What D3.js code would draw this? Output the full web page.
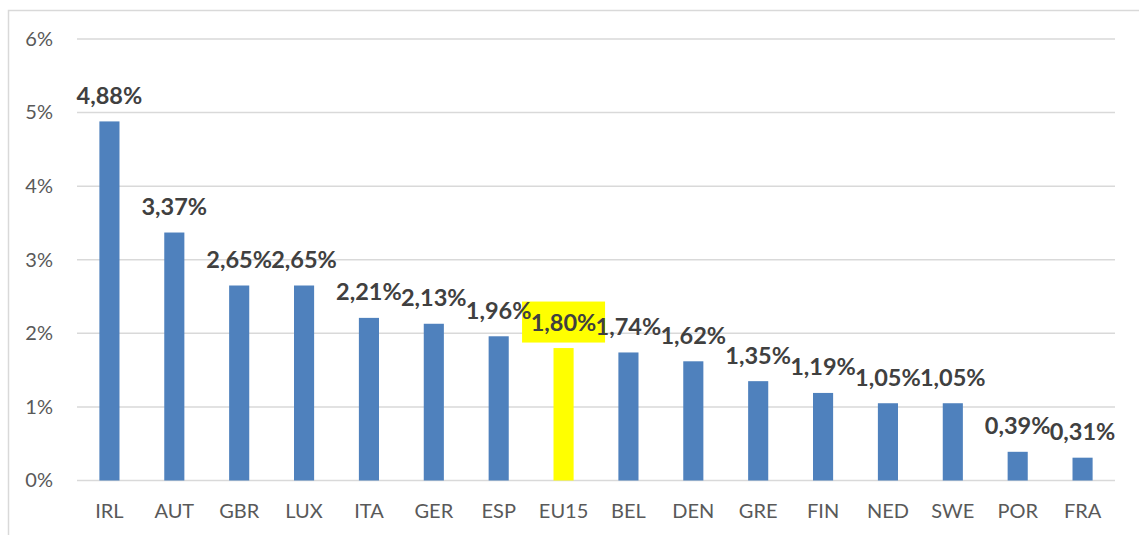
<!DOCTYPE html>
<html><head><meta charset="utf-8">
<script src="https://cdn.jsdelivr.net/npm/d3@7"></script>
<style>body{margin:0;background:#fff}svg{display:block}</style>
</head><body>
<script>
const categories = ["IRL","AUT","GBR","LUX","ITA","GER","ESP","EU15","BEL","DEN","GRE","FIN","NED","SWE","POR","FRA"];
const values = [4.88,3.37,2.65,2.65,2.21,2.13,1.96,1.80,1.74,1.62,1.35,1.19,1.05,1.05,0.39,0.31];
const highlight = ["EU15"];
const yTicks = [0,1,2,3,4,5,6];

const W = 1139, H = 535;
const svg = d3.select("body").append("svg").attr("width", W).attr("height", H);
const font = "Lato, 'Open Sans', sans-serif";

svg.append("rect").attr("x", 8.5).attr("y", 10.5).attr("width", W + 10).attr("height", H + 10)
  .attr("fill", "none").attr("stroke", "#d9d9d9").attr("stroke-width", 1.5);

const x = d3.scaleBand().domain(categories).range([77, 1115]).paddingInner(0.69).paddingOuter(0.345);
const y = d3.scaleLinear().domain([0, 6]).range([480.5, 39]);

const fmt = v => d3.format(".2f")(v).replace(".", ",") + "%";

svg.append("g").selectAll("line").data(yTicks).join("line")
  .attr("x1", 77).attr("x2", 1115)
  .attr("y1", d => y(d)).attr("y2", d => y(d))
  .attr("stroke", "#d9d9d9").attr("stroke-width", 1.5);

const yAxis = svg.append("g").attr("transform", "translate(53,0)")
  .call(d3.axisLeft(y).tickValues(yTicks).tickFormat(d => d + "%").tickSize(0).tickPadding(0));
yAxis.select(".domain").remove();
yAxis.selectAll("text").attr("fill", "#595959").attr("font-size", 20).attr("font-family", font);

const xAxis = svg.append("g").attr("transform", "translate(0,481)")
  .call(d3.axisBottom(x).tickSize(0).tickPadding(23));
xAxis.select(".domain").remove();
xAxis.selectAll("text").attr("fill", "#595959").attr("font-size", 20).attr("font-family", font);

const data = categories.map((c, i) => ({c, v: values[i]}));

svg.append("g").selectAll("rect").data(data).join("rect")
  .attr("x", d => x(d.c)).attr("width", x.bandwidth())
  .attr("y", d => y(d.v)).attr("height", d => y(0) - y(d.v))
  .attr("fill", d => highlight.includes(d.c) ? "#ffff00" : "#4f81bd");

svg.append("g").selectAll("rect").data(data.filter(d => highlight.includes(d.c))).join("rect")
  .attr("x", d => x(d.c) + x.bandwidth() / 2 - 41.5).attr("width", 83)
  .attr("y", d => y(d.v) - 26 - 20.5).attr("height", 41)
  .attr("fill", "#ffff00");

svg.append("g").selectAll("text").data(data).join("text")
  .attr("x", d => x(d.c) + x.bandwidth() / 2)
  .attr("y", d => y(d.v) - 26)
  .attr("dy", "0.36em")
  .attr("text-anchor", "middle")
  .attr("font-family", font).attr("font-weight", "bold").attr("font-size", 23.5)
  .attr("fill", "#404040")
  .text(d => fmt(d.v));
</script>
</body></html>
